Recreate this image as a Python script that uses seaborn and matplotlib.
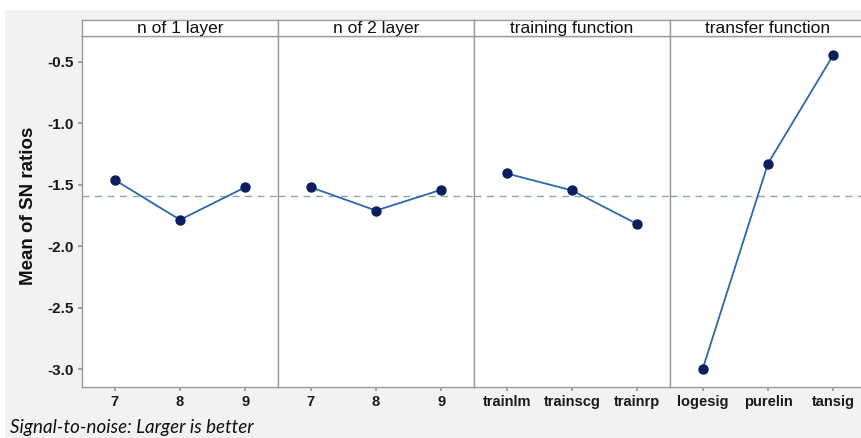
import matplotlib
matplotlib.use("Agg")
import matplotlib.pyplot as plt
from matplotlib.patches import Rectangle
import seaborn as sns
import pandas as pd
import numpy as np

# Main effects of each factor on the mean signal-to-noise ratio
factors = ["n of 1 layer", "n of 2 layer", "training function", "transfer function"]
levels_layer1 = ["7", "8", "9"]
sn_layer1 = [-1.46, -1.785, -1.52]
levels_layer2 = ["7", "8", "9"]
sn_layer2 = [-1.52, -1.71, -1.54]
levels_training = ["trainlm", "trainscg", "trainrp"]
sn_training = [-1.408, -1.546, -1.82]
levels_transfer = ["logesig", "purelin", "tansig"]
sn_transfer = [-3.0, -1.327, -0.443]

y_ticks = [-3.0, -2.5, -2.0, -1.5, -1.0, -0.5]

panels = [
    (factors[0], levels_layer1, sn_layer1),
    (factors[1], levels_layer2, sn_layer2),
    (factors[2], levels_training, sn_training),
    (factors[3], levels_transfer, sn_transfer),
]

sns.set_theme(style="white")
plt.rcParams["font.family"] = ["Liberation Sans", "DejaVu Sans"]
plt.rcParams["axes.unicode_minus"] = False

W, H = 862, 438
fig = plt.figure(figsize=(W / 100, H / 100), dpi=100, facecolor="white")

# light gray page behind the panels
fig.patches.append(Rectangle((5 / W, 0), 1, 1 - 10 / H, transform=fig.transFigure,
                             facecolor="#f2f2f2", edgecolor="none", zorder=-10))

grand_mean = float(np.mean(sn_layer1 + sn_layer2 + sn_training + sn_transfer))

left_px, panel_px = 82, 196
bottom_px, top_px, strip_px = 387, 36, 16
line_color = "#2b68ad"
dot_color = "#0b1f5e"
frame_color = "#9a9a9a"

axes = []
for i, (name, levels, vals) in enumerate(panels):
    x0 = (left_px + i * panel_px) / W
    ax = fig.add_axes([x0, 1 - bottom_px / H, panel_px / W, (bottom_px - top_px) / H],
                      sharey=axes[0] if axes else None)
    df = pd.DataFrame({"level": pd.Categorical(levels, categories=levels, ordered=True),
                       "sn": vals})
    sns.pointplot(data=df, x="level", y="sn", ax=ax, color=line_color,
                  markers="o", linestyles="-", markersize=6.5, linewidth=1.3)
    for ln in ax.lines:
        ln.set_markerfacecolor(dot_color)
        ln.set_markeredgecolor(dot_color)
    ax.axhline(grand_mean, color="#8fa6a4", linestyle=(0, (5, 4)), linewidth=1.0, zorder=0)
    ax.set_xlim(-0.5, len(levels) - 0.5)
    ax.set_ylim(-3.146, -0.289)
    ax.set_xlabel("")
    ax.set_ylabel("")
    ax.set_facecolor("white")
    for sp in ax.spines.values():
        sp.set_color(frame_color)
        sp.set_linewidth(1.0)
    ax.tick_params(axis="x", bottom=True, length=3, color=frame_color, labelsize=10.5, pad=3)
    for lab in ax.get_xticklabels():
        lab.set_fontweight("bold")
        lab.set_color("#1a1a1a")
    if i == 0:
        ax.set_yticks(y_ticks)
        ax.set_yticklabels([f"{t:.1f}" for t in y_ticks])
        ax.tick_params(axis="y", left=True, length=3, color=frame_color, labelsize=11, pad=3)
        for lab in ax.get_yticklabels():
            lab.set_fontweight("bold")
            lab.set_color("#1a1a1a")
    else:
        ax.tick_params(axis="y", left=False, labelleft=False)

    # header strip with the factor name
    sax = fig.add_axes([x0, 1 - top_px / H, panel_px / W, strip_px / H])
    sax.set_xticks([])
    sax.set_yticks([])
    sax.set_facecolor("white")
    for sp in sax.spines.values():
        sp.set_color(frame_color)
        sp.set_linewidth(1.0)
    sax.text(0.5, 0.45, name, ha="center", va="center", fontsize=12.5, color="#111111",
             transform=sax.transAxes)
    axes.append(ax)

fig.text(29 / W, 1 - 206 / H, "Mean of SN ratios", rotation=90, ha="center", va="center",
         fontsize=13.5, fontweight="bold", color="#111111")
fig.text(10 / W, 1 - 427 / H, "Signal-to-noise: Larger is better", ha="left", va="center",
         fontsize=13.5, style="italic", color="#111111", family=["Lato", "DejaVu Sans"])

fig.savefig("out.png", dpi=100, facecolor=fig.get_facecolor())
